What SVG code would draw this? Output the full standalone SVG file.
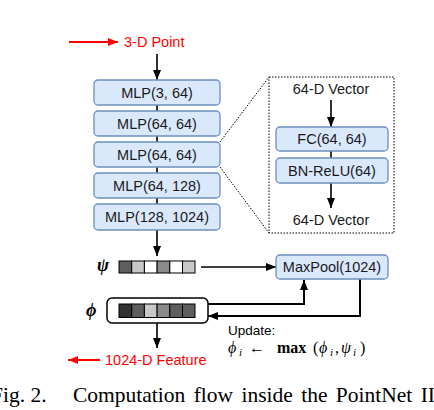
<svg xmlns="http://www.w3.org/2000/svg" width="434" height="410" viewBox="0 0 434 410">
<defs>
<marker id="ah" viewBox="0 0 10 8" refX="10" refY="4" markerWidth="10" markerHeight="8" markerUnits="userSpaceOnUse" orient="auto"><path d="M0,0 L10,4 L0,8 Z" fill="#000"/></marker>
<marker id="ahr" viewBox="0 0 10 8" refX="10" refY="4" markerWidth="10" markerHeight="8" markerUnits="userSpaceOnUse" orient="auto"><path d="M0,0 L10,4 L0,8 Z" fill="#ff0000"/></marker>
</defs>
<style>
.box{fill:#dae8fc;stroke:#6c8ebf;stroke-width:1.3}
.lbl{font-family:"Liberation Sans",Arial,sans-serif;font-size:14.5px;fill:#1a1a1a;text-anchor:middle}
.red{font-family:"Liberation Sans",Arial,sans-serif;font-size:14.5px;fill:#ff0000}
.ln{stroke:#000;stroke-width:1.6;fill:none}
.ln2{stroke:#000;stroke-width:2;fill:none}
.sq{stroke:#000;stroke-width:1}
.math{font-family:"Liberation Serif","Times New Roman",serif;fill:#000}
.cap{font-family:"Liberation Serif","Times New Roman",serif;font-size:21.5px;fill:#000}
</style>
<rect width="434" height="410" fill="#fff"/>
<g id="connectors">
<line x1="69" y1="42" x2="118" y2="42" stroke="#ff0000" stroke-width="2" marker-end="url(#ahr)"/>
<line class="ln" x1="157" y1="54" x2="157" y2="80" marker-end="url(#ah)"/>
<line class="ln" x1="157" y1="105" x2="157" y2="204"/>
<line class="ln" x1="157" y1="230" x2="157" y2="256" marker-end="url(#ah)"/>
<line class="ln" x1="201" y1="267" x2="276" y2="267" marker-end="url(#ah)"/>
<polyline class="ln2" points="208,304 304,304 304,280" marker-end="url(#ah)"/>
<polyline class="ln2" points="360,279 360,316 208,316" marker-end="url(#ah)"/>
<line class="ln" x1="157" y1="323" x2="157" y2="348" marker-end="url(#ah)"/>
<line x1="100" y1="360" x2="68" y2="360" stroke="#ff0000" stroke-width="2" marker-end="url(#ahr)"/>
<line x1="220" y1="142" x2="269" y2="77" stroke="#000" stroke-width="1" stroke-dasharray="1.5,1.5"/>
<line x1="220" y1="167" x2="269" y2="233" stroke="#000" stroke-width="1" stroke-dasharray="1.5,1.5"/>
<line class="ln" x1="331" y1="100" x2="331" y2="127" marker-end="url(#ah)"/>
<line class="ln" x1="331" y1="151" x2="331" y2="158"/>
<line class="ln" x1="331" y1="183" x2="331" y2="208" marker-end="url(#ah)"/>
</g>
<g id="input"><text class="red" x="124" y="47">3-D Point</text></g>
<g id="mlp1"><rect class="box" x="94" y="80" width="126" height="25" rx="4"/><text class="lbl" x="157" y="97.5">MLP(3, 64)</text></g>
<g id="mlp2"><rect class="box" x="94" y="111" width="126" height="25" rx="4"/><text class="lbl" x="157" y="128.5">MLP(64, 64)</text></g>
<g id="mlp3"><rect class="box" x="94" y="142" width="126" height="25" rx="4"/><text class="lbl" x="157" y="159.5">MLP(64, 64)</text></g>
<g id="mlp4"><rect class="box" x="94" y="173" width="126" height="25" rx="4"/><text class="lbl" x="157" y="190.5">MLP(64, 128)</text></g>
<g id="mlp5"><rect class="box" x="94" y="204" width="126" height="26" rx="4"/><text class="lbl" x="157" y="222">MLP(128, 1024)</text></g>
<g id="detail">
<rect x="269" y="77" width="125" height="156" fill="none" stroke="#000" stroke-width="1" stroke-dasharray="1.5,1.5"/>
<text class="lbl" x="331" y="94">64-D Vector</text>
<text class="lbl" x="331" y="225">64-D Vector</text>
</g>
<g id="fc"><rect class="box" x="276" y="127" width="112" height="24" rx="4"/><text class="lbl" x="332" y="144">FC(64, 64)</text></g>
<g id="bnrelu"><rect class="box" x="276" y="158" width="112" height="25" rx="4"/><text class="lbl" x="332" y="175.5">BN-ReLU(64)</text></g>
<g id="psi">
<text class="math" x="97" y="271" font-size="18" font-weight="bold" font-style="italic">ψ</text>
<rect class="sq" x="119" y="261" width="12.7" height="12" fill="#5e5e5e"/>
<rect class="sq" x="131.7" y="261" width="12.7" height="12" fill="#c8c8c8"/>
<rect class="sq" x="144.4" y="261" width="12.7" height="12" fill="#ffffff"/>
<rect class="sq" x="157.1" y="261" width="12.7" height="12" fill="#8a8a8a"/>
<rect class="sq" x="169.8" y="261" width="12.7" height="12" fill="#ffffff"/>
<rect class="sq" x="182.5" y="261" width="12.5" height="12" fill="#c8c8c8"/>
</g>
<g id="maxpool"><rect class="box" x="276" y="255" width="112" height="24" rx="4"/><text class="lbl" x="332" y="272">MaxPool(1024)</text></g>
<g id="phi">
<text class="math" x="86" y="316" font-size="18" font-weight="bold" font-style="italic">ϕ</text>
<rect x="107" y="298" width="101" height="25" rx="5" fill="#fff" stroke="#000" stroke-width="1.5"/>
<rect class="sq" x="119" y="304" width="12.7" height="13.5" fill="#333333"/>
<rect class="sq" x="131.7" y="304" width="12.7" height="13.5" fill="#5e5e5e"/>
<rect class="sq" x="144.4" y="304" width="12.7" height="13.5" fill="#c8c8c8"/>
<rect class="sq" x="157.1" y="304" width="12.7" height="13.5" fill="#8a8a8a"/>
<rect class="sq" x="169.8" y="304" width="12.7" height="13.5" fill="#5e5e5e"/>
<rect class="sq" x="182.5" y="304" width="12.5" height="13.5" fill="#5e5e5e"/>
</g>
<g id="output"><text class="red" x="105" y="365">1024-D Feature</text></g>
<g id="update">
<text x="228" y="335" font-family="'Liberation Sans',Arial,sans-serif" font-size="13.5" fill="#000">Update:</text>
<text class="math" font-size="16"><tspan x="228" y="353" font-style="italic">ϕ</tspan><tspan x="239" y="356" font-size="11" font-style="italic">i</tspan><tspan x="249" y="353">←</tspan><tspan x="277" y="353" font-weight="bold">max</tspan><tspan x="313" y="353">(</tspan><tspan x="319" y="353" font-style="italic">ϕ</tspan><tspan x="330" y="356" font-size="11" font-style="italic">i</tspan><tspan x="335" y="353">,</tspan><tspan x="341" y="353" font-style="italic">ψ</tspan><tspan x="353" y="356" font-size="11" font-style="italic">i</tspan><tspan x="360" y="353">)</tspan></text>
</g>
<g id="caption">
<text class="cap" x="-9" y="402">Fig. 2.</text>
<text class="cap" x="73" y="402" word-spacing="3">Computation flow inside the PointNet II</text>
</g>
</svg>
